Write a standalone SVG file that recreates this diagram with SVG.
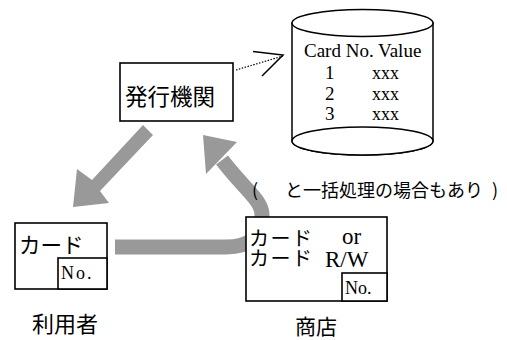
<svg xmlns="http://www.w3.org/2000/svg" width="507" height="340" viewBox="0 0 507 340">
  <style>
    .box { fill: #fff; stroke: #000; stroke-width: 1.6; }
    .cyl { fill: #fff; stroke: #000; stroke-width: 1.5; }
    .jp { font-family: "Noto Sans CJK JP", "Noto Sans", sans-serif; fill: #000; }
    .en { font-family: "Liberation Serif", "Times New Roman", serif; fill: #000; }
    .flow { fill: none; stroke: #999; stroke-width: 15; }
    .head { fill: #999; stroke: none; }
  </style>
  <rect width="507" height="340" fill="#fff"/>
  <g id="connectors">
    <polygon class="head" points="143,125 153,135 100,191 109,203 73,207 77,169 92,180"/>
    <path class="flow" d="M115,247 H226 Q262,247 262,215 C262,200 245,190 222,160"/>
    <polygon class="head" points="203,135 237,142 206,174"/>
    <line x1="236" y1="70" x2="283" y2="56" stroke="#000" stroke-width="1.2" stroke-dasharray="1.5 1.5"/>
    <polyline points="253,51.5 283,55 262,76" fill="none" stroke="#000" stroke-width="1.5"/>
  </g>
  <g id="issuer">
    <rect class="box" x="120" y="63" width="113" height="58"/>
    <text class="jp" x="125" y="105" font-size="22.5">発行機関</text>
  </g>
  <g id="database">
    <path class="cyl" d="M292,23 V141 A70.5,14 0 0 0 433,141 V23 Z"/>
    <ellipse class="cyl" cx="362.5" cy="141" rx="70.5" ry="14"/>
    <ellipse class="cyl" cx="362.5" cy="23" rx="70.5" ry="13.5"/>
    <text class="en" x="304" y="57" font-size="19">Card No. Value</text>
    <text class="en" x="325" y="79" font-size="19">1</text>
    <text class="en" x="372" y="79" font-size="18">xxx</text>
    <text class="en" x="325" y="99.5" font-size="19">2</text>
    <text class="en" x="372" y="99.5" font-size="18">xxx</text>
    <text class="en" x="325" y="120" font-size="19">3</text>
    <text class="en" x="372" y="120" font-size="18">xxx</text>
  </g>
  <g id="user">
    <rect class="box" x="15" y="223" width="92" height="66"/>
    <rect class="box" x="58" y="258" width="49" height="31"/>
    <text class="jp" x="19" y="253" font-size="21.5">カード</text>
    <text class="en" x="61" y="279" font-size="18" letter-spacing="2">No.</text>
    <text class="jp" x="32" y="332" font-size="22">利用者</text>
  </g>
  <g id="shop">
    <rect class="box" x="246" y="217" width="141" height="84"/>
    <rect class="box" x="342" y="273" width="45" height="28"/>
    <text class="jp" x="249" y="246" font-size="20" letter-spacing="1.5">カード</text>
    <text class="jp" x="249" y="266" font-size="20" letter-spacing="1.5">カード</text>
    <text class="en" x="342" y="244" font-size="23">or</text>
    <text class="en" x="325" y="267" font-size="23">R/W</text>
    <text class="en" x="345" y="294" font-size="18">No.</text>
    <text class="jp" x="295" y="334" font-size="21">商店</text>
  </g>
  <g id="note">
    <text class="jp" x="252" y="197" font-size="18">(</text>
    <text class="jp" x="285" y="197" font-size="18">と一括処理の場合もあり</text>
    <text class="jp" x="492" y="197" font-size="18">)</text>
  </g>
</svg>
